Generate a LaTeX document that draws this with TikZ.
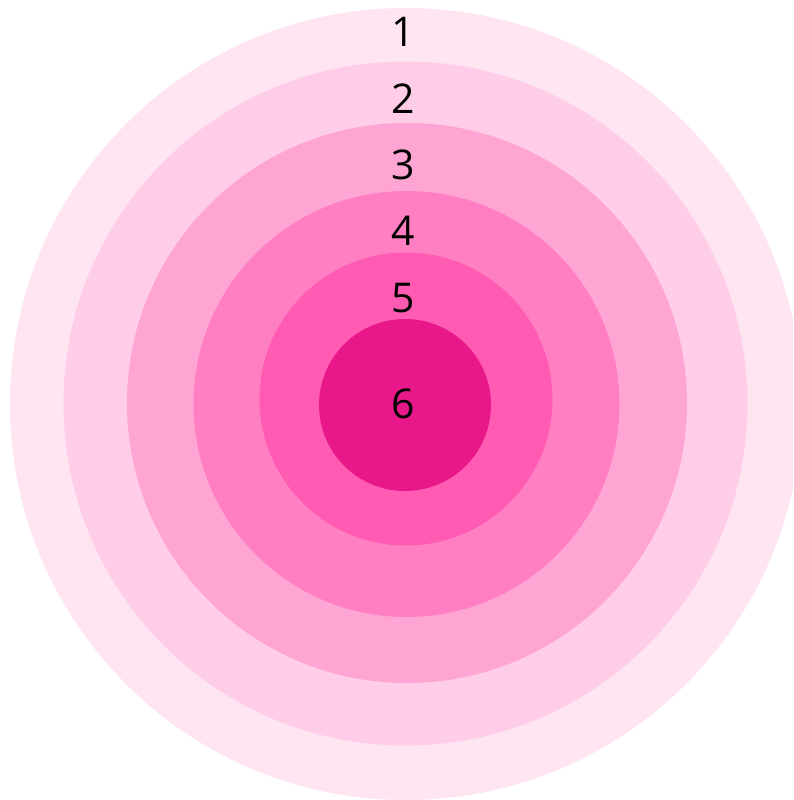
\documentclass[tikz,border=0pt]{standalone}
\usepackage{fontspec}
\setmainfont{Open Sans}
\definecolor{ringA}{HTML}{FFE4F1}
\definecolor{ringB}{HTML}{FFCDE7}
\definecolor{ringC}{HTML}{FFA5D3}
\definecolor{ringD}{HTML}{FF7FC2}
\definecolor{ringE}{HTML}{FF5BB2}
\definecolor{ringF}{HTML}{E8178A}
\tikzset{
  ring/.style={circle,inner sep=0pt,draw=none},
  lbl/.style={font=\fontsize{41}{41}\selectfont,text=black,inner sep=0pt}
}

\begin{document}
\begin{tikzpicture}[x=1pt,y=-1pt]
\useasboundingbox (0,0) rectangle (793,800);
\clip (0,0) rectangle (793,800);
\foreach \i/\cx/\cy/\d/\c in {1/406/404/792/ringA,2/405.5/403.5/684/ringB,3/407/403/560/ringC,
    4/406.5/404/426/ringD,5/406/399/293/ringE,6/405/405/172/ringF}
  \node[ring,fill=\c,minimum size=\d pt] (ring\i) at (\cx,\cy) {};
\node[lbl] (num1) at (403,32) {1};
\node[lbl] (num2) at (403,99) {2};
\node[lbl] (num3) at (403,165) {3};
\node[lbl] (num4) at (403,231) {4};
\node[lbl] (num5) at (403,298) {5};
\node[lbl] (num6) at (403,404) {6};
\end{tikzpicture}
\end{document}
